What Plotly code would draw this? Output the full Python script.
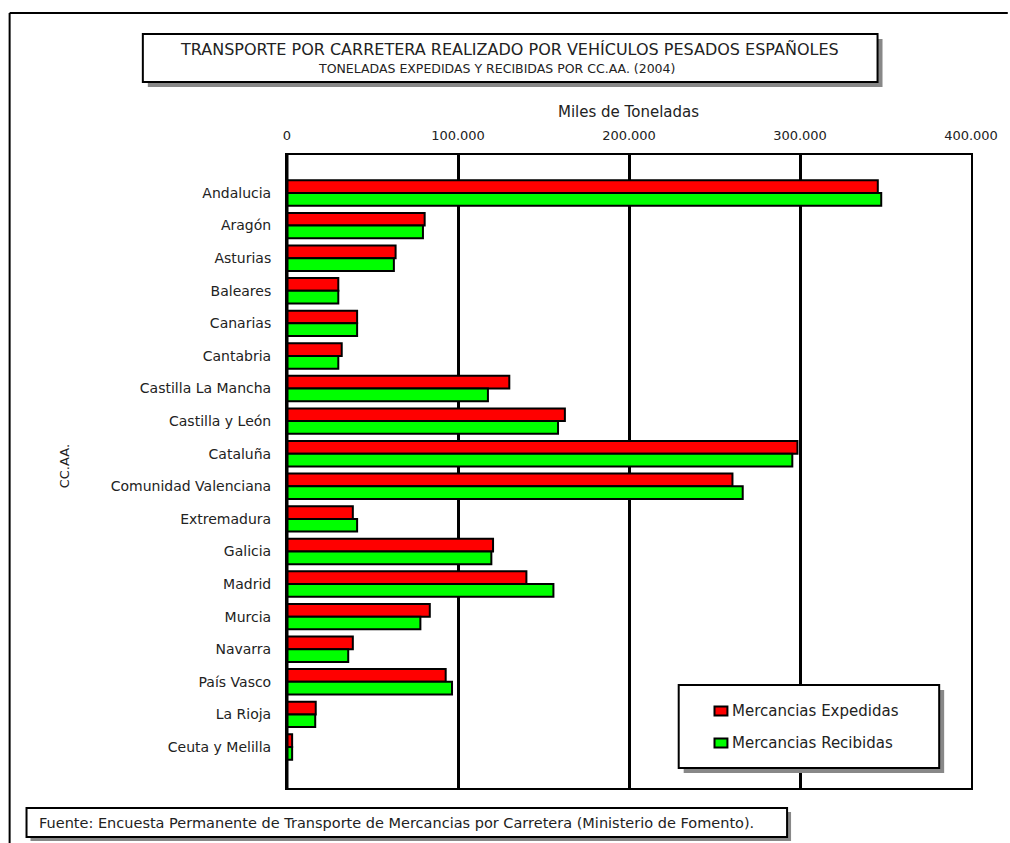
import plotly.graph_objects as go

categories = ["Andalucia", "Aragón", "Asturias", "Baleares", "Canarias", "Cantabria",
              "Castilla La Mancha", "Castilla y León", "Cataluña", "Comunidad Valenciana",
              "Extremadura", "Galicia", "Madrid", "Murcia", "Navarra", "País Vasco",
              "La Rioja", "Ceuta y Melilla"]
expedidas = [345500, 80500, 63500, 30000, 41000, 32000, 130000, 162500, 298500, 260500,
             38500, 120500, 140000, 83500, 38500, 92800, 16800, 3000]
recibidas = [347500, 79500, 62500, 30000, 41000, 30000, 117500, 158500, 295500, 266500,
             41000, 119500, 155800, 78000, 35800, 96500, 16500, 3000]
tick_vals = [0, 100000, 200000, 300000, 400000]
tick_text = ["0", "100.000", "200.000", "300.000", "400.000"]
series_names = ["Mercancias Expedidas", "Mercancias Recibidas"]
series_colors = ["#ff0000", "#00ff00"]

FONT = "DejaVu Sans, Arial, sans-serif"
TXT = "#222222"

W, H = 1010, 843
L, R, T, B = 287, 975, 155, 788

def px(x):
    return (x - L) / (R - L)

def py(y):
    return (B - y) / (B - T)

fig = go.Figure()
for name, vals, col in zip(series_names, [expedidas, recibidas], series_colors):
    fig.add_trace(go.Bar(
        y=categories, x=vals, orientation="h", name=name,
        marker=dict(color=col, line=dict(color="black", width=2)),
        showlegend=False,
    ))

n = len(categories)
slot = (747 - 193) / (n - 1)
top_idx = -(193 - T) / slot
bot_idx = (n - 1) + (B - 747) / slot

fig.update_layout(
    width=W, height=H,
    margin=dict(l=L, r=W - R, t=T, b=H - B, pad=0),
    paper_bgcolor="white", plot_bgcolor="white",
    barmode="group", bargap=0.22, bargroupgap=0,
    font=dict(family=FONT, color=TXT, size=12),
    xaxis=dict(
        side="top", range=[0, 400000], tickvals=tick_vals, ticktext=tick_text,
        showgrid=True, gridcolor="black", gridwidth=2.5,
        zeroline=False, showline=True, linecolor="black", linewidth=2, mirror=True,
        ticks="", tickfont=dict(size=13, family=FONT, color=TXT),
        ticklabelstandoff=8, fixedrange=True,
    ),
    yaxis=dict(
        range=[bot_idx, top_idx], tickfont=dict(size=14, family=FONT, color=TXT),
        ticks="", ticklabelstandoff=11, showline=True, linecolor="black",
        linewidth=2, mirror=True, showgrid=False, zeroline=False, fixedrange=True,
    ),
)

shapes = []
# page frame (top and left lines)
shapes.append(dict(type="line", xref="paper", yref="paper", x0=px(8), x1=px(1012),
                   y0=py(13), y1=py(13), line=dict(color="black", width=2)))
shapes.append(dict(type="line", xref="paper", yref="paper", x0=px(8), x1=px(8),
                   y0=py(13), y1=py(845), line=dict(color="black", width=2)))
# zero line thicker
shapes.append(dict(type="line", xref="x", yref="paper", x0=0, x1=0, y0=0, y1=1,
                   line=dict(color="black", width=3), layer="above"))

def box(x0, y0, x1, y1, sh=5):
    shapes.append(dict(type="rect", xref="paper", yref="paper",
                       x0=px(x0 + sh), x1=px(x1 + sh), y0=py(y0 + sh), y1=py(y1 + sh),
                       fillcolor="#888888", line=dict(width=0), layer="above"))
    shapes.append(dict(type="rect", xref="paper", yref="paper",
                       x0=px(x0), x1=px(x1), y0=py(y0), y1=py(y1),
                       fillcolor="white", line=dict(color="black", width=2), layer="above"))

box(142, 34, 881, 82)
box(681, 685, 943, 768)
box(25, 808, 790, 837, sh=4)

# legend markers
for i, col in enumerate(series_colors):
    yc = 711 + 32 * i
    shapes.append(dict(type="rect", xref="paper", yref="paper",
                       x0=px(717), x1=px(730), y0=py(yc - 4.5), y1=py(yc + 4.5),
                       fillcolor=col, line=dict(color="black", width=2), layer="above"))

fig.update_layout(shapes=shapes)

ann = []
ann.append(dict(text="TRANSPORTE POR CARRETERA REALIZADO POR VEHÍCULOS PESADOS ESPAÑOLES",
                x=px(511), y=py(50), xref="paper", yref="paper", showarrow=False,
                xanchor="center", yanchor="middle", font=dict(size=16, family=FONT, color=TXT)))
ann.append(dict(text="TONELADAS EXPEDIDAS Y RECIBIDAS POR CC.AA. (2004)",
                x=px(498), y=py(68), xref="paper", yref="paper", showarrow=False,
                xanchor="center", yanchor="middle", font=dict(size=12.5, family=FONT, color=TXT)))
ann.append(dict(text="Miles de Toneladas", x=px(630), y=py(112), xref="paper", yref="paper",
                showarrow=False, xanchor="center", yanchor="middle",
                font=dict(size=15, family=FONT, color=TXT)))
ann.append(dict(text="CC.AA.", x=px(63), y=py(466), xref="paper", yref="paper",
                showarrow=False, textangle=-90, xanchor="center", yanchor="middle",
                font=dict(size=13, family=FONT, color=TXT)))
for i, name in enumerate(series_names):
    ann.append(dict(text=name, x=px(733), y=py(711 + 32 * i), xref="paper", yref="paper",
                    showarrow=False, xanchor="left", yanchor="middle",
                    font=dict(size=15, family=FONT, color=TXT)))
ann.append(dict(text="Fuente: Encuesta Permanente de Transporte de Mercancias por Carretera (Ministerio de Fomento).",
                x=px(36), y=py(823), xref="paper", yref="paper", showarrow=False,
                xanchor="left", yanchor="middle", font=dict(size=14.5, family=FONT, color=TXT)))
fig.update_layout(annotations=ann)

fig.write_html("out.html")
